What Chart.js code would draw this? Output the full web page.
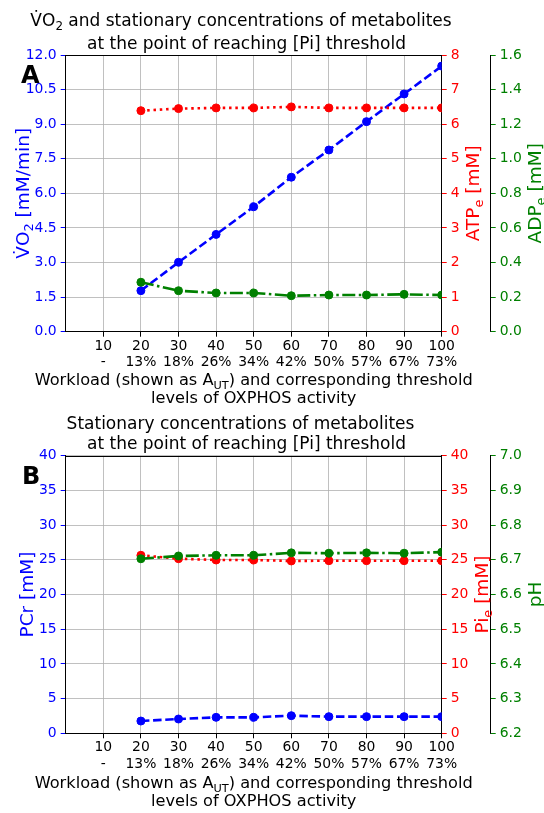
<!DOCTYPE html>
<html>
<head>
<meta charset="utf-8">
<script src="https://cdn.jsdelivr.net/npm/chart.js@4.4.1/dist/chart.umd.min.js"></script>
<style>
  html, body { margin: 0; padding: 0; background: #fff; }
  canvas { display: block; }
</style>
</head>
<body>
<canvas id="chartA" width="544" height="406"></canvas>
<canvas id="chartB" width="544" height="407"></canvas>
<script>
// workload (A_UT) and the threshold level of OXPHOS activity that goes with it
const workload = [10, 20, 30, 40, 50, 60, 70, 80, 90, 100];
const oxphosLevel = ['-', '13%', '18%', '26%', '34%', '42%', '50%', '57%', '67%', '73%'];

// panel A
const vo2 = [null, 1.78, 3.01, 4.22, 5.42, 6.70, 7.88, 9.11, 10.31, 11.52];
const atp = [null, 6.39, 6.45, 6.47, 6.47, 6.50, 6.47, 6.47, 6.47, 6.47];
const adp = [null, 0.286, 0.237, 0.224, 0.224, 0.208, 0.212, 0.212, 0.216, 0.212];

// panel B
const pcr = [null, 1.77, 2.06, 2.30, 2.30, 2.54, 2.40, 2.40, 2.40, 2.40];
const pi = [null, 25.65, 25.16, 24.97, 24.97, 24.83, 24.87, 24.87, 24.87, 24.87];
const ph = [null, 6.703, 6.711, 6.713, 6.713, 6.720, 6.719, 6.720, 6.719, 6.722];

// tick values
const vo2Ticks = [0, 1.5, 3, 4.5, 6, 7.5, 9, 10.5, 12];
const atpTicks = [0, 1, 2, 3, 4, 5, 6, 7, 8];
const adpTicks = [0, 0.2, 0.4, 0.6, 0.8, 1.0, 1.2, 1.4, 1.6];
const pcrTicks = [0, 5, 10, 15, 20, 25, 30, 35, 40];
const piTicks = [0, 5, 10, 15, 20, 25, 30, 35, 40];
const phTicks = [6.2, 6.3, 6.4, 6.5, 6.6, 6.7, 6.8, 6.9, 7.0];

Chart.defaults.font.family = '"DejaVu Sans"';
Chart.defaults.animation = false;

const BLUE = '#0000ff', RED = '#ff0000', GREEN = '#008000';
const GRID = '#b0b0b0';
const TICK_SIZE = 13.9;
const TITLE_SIZE = 17, XLABEL_SIZE = 16.2, YLABEL_SIZE = 18.5;

function drawRich(ctx, t) {
  ctx.save();
  ctx.translate(t.x, t.y);
  if (t.rot) ctx.rotate(-Math.PI / 2);
  ctx.fillStyle = t.color || '#000';
  ctx.textBaseline = 'alphabetic';
  ctx.textAlign = 'left';
  const fontOf = s => (t.bold ? 'bold ' : '') + (s[1] ? t.size * 0.7 : t.size) + 'px "DejaVu Sans"';
  let w = 0;
  t.segs.forEach(s => { ctx.font = fontOf(s); w += ctx.measureText(s[0]).width; });
  let x = t.align === 'left' ? 0 : -w / 2;
  t.segs.forEach(s => {
    ctx.font = fontOf(s);
    ctx.fillText(s[0], x, s[1] ? t.size * 0.22 : 0);
    x += ctx.measureText(s[0]).width;
  });
  ctx.restore();
}

const decor = {
  id: 'decor',
  afterDraw(chart, args, o) {
    const ctx = chart.ctx, a = chart.chartArea;
    ctx.save();
    // top spine
    ctx.strokeStyle = '#000';
    ctx.lineWidth = 1;
    const yt = Math.round(a.top) + 0.5;
    ctx.beginPath();
    ctx.moveTo(a.left, yt);
    ctx.lineTo(a.right, yt);
    ctx.stroke();
    o.texts.forEach(t => drawRich(ctx, t));
    ctx.restore();
  }
};

function yAxis(ticks, color, pos, width, weight, digits, onArea) {
  return {
    type: 'linear', position: pos, weight: weight,
    min: ticks[0], max: ticks[ticks.length - 1],
    afterBuildTicks: s => { s.ticks = ticks.map(v => ({ value: v })); },
    afterFit: s => { s.width = width; },
    ticks: { color: color, font: { size: TICK_SIZE }, padding: 4, callback: v => v.toFixed(digits) },
    grid: { display: true, drawOnChartArea: onArea, color: GRID, lineWidth: 0.8, tickLength: 5, tickColor: color, tickWidth: 1 },
    border: { color: '#000', width: 1 }
  };
}

function series(vals, color, dash, axis, order) {
  return {
    data: workload.map((x, i) => ({ x: x, y: vals[i] })).filter(p => p.y !== null),
    yAxisID: axis, order: order,
    borderColor: color, backgroundColor: color,
    borderWidth: 2.6, borderDash: dash,
    pointRadius: 4, pointBorderWidth: 1, pointBorderColor: color, pointBackgroundColor: color,
    tension: 0, fill: false
  };
}

function makeChart(id, c) {
  return new Chart(document.getElementById(id), {
    type: 'line',
    data: { datasets: c.datasets },
    options: {
      responsive: false,
      layout: { padding: { top: c.top, left: 0, right: 0, bottom: 0 } },
      plugins: { legend: { display: false }, tooltip: { enabled: false }, decor: { texts: c.texts } },
      scales: {
        x: {
          type: 'linear', min: 0, max: 100,
          afterBuildTicks: s => { s.ticks = workload.map(v => ({ value: v })); },
          afterFit: s => { s.height = c.xHeight; },
          ticks: {
            color: '#000', font: { size: TICK_SIZE, lineHeight: 1.2 }, padding: 1,
            maxRotation: 0, autoSkip: false,
            callback: (v, i) => [String(v), oxphosLevel[i]]
          },
          grid: { color: GRID, lineWidth: 0.8, tickLength: 5, tickColor: '#000', tickWidth: 1 },
          border: { color: '#000', width: 1 }
        },
        yL: yAxis(c.ticks[0], BLUE, 'left', 65.7, 0, c.digits[0], true),
        yR: yAxis(c.ticks[1], RED, 'right', 49, 1, c.digits[1], false),
        yG: yAxis(c.ticks[2], GREEN, 'right', 53.3, 2, c.digits[2], false)
      }
    },
    plugins: [decor]
  });
}

const DASHED = [8.5, 3.7], DOTTED = [2.5, 3.8], DASHDOT = [13, 3.5, 2.5, 3.5];

function xLabel(y1, y2) {
  return [
    { segs: [['Workload (shown as A'], ['UT', 1], [') and corresponding threshold']], x: 253.7, y: y1, size: XLABEL_SIZE },
    { segs: [['levels of OXPHOS activity']], x: 253.7, y: y2, size: XLABEL_SIZE }
  ];
}

makeChart('chartA', {
  top: 55, xHeight: 74.3,
  ticks: [vo2Ticks, atpTicks, adpTicks], digits: [1, 0, 1],
  datasets: [
    series(vo2, BLUE, DASHED, 'yL', 3),
    series(atp, RED, DOTTED, 'yR', 2),
    series(adp, GREEN, DASHDOT, 'yG', 1)
  ],
  texts: [
    { segs: [['V\u0307O'], ['2', 1], [' and stationary concentrations of metabolites']], x: 241, y: 26, size: TITLE_SIZE },
    { segs: [['at the point of reaching [Pi] threshold']], x: 246.5, y: 49.3, size: TITLE_SIZE },
    { segs: [['A']], x: 21, y: 82.7, size: 24, bold: true, align: 'left' },
    { segs: [['V\u0307O'], ['2', 1], [' [mM/min]']], x: 29, y: 193.3, size: YLABEL_SIZE, rot: true, color: BLUE },
    { segs: [['ATP'], ['e', 1], [' [mM]']], x: 479, y: 193.3, size: YLABEL_SIZE, rot: true, color: RED },
    { segs: [['ADP'], ['e', 1], [' [mM]']], x: 541, y: 193.3, size: YLABEL_SIZE, rot: true, color: GREEN }
  ].concat(xLabel(385, 403.3))
});

makeChart('chartB', {
  top: 49.7, xHeight: 79.7,
  ticks: [pcrTicks, piTicks, phTicks], digits: [0, 0, 1],
  datasets: [
    series(pcr, BLUE, DASHED, 'yL', 3),
    series(pi, RED, DOTTED, 'yR', 2),
    series(ph, GREEN, DASHDOT, 'yG', 1)
  ],
  texts: [
    { segs: [['Stationary concentrations of metabolites']], x: 240.5, y: 23.3, size: TITLE_SIZE },
    { segs: [['at the point of reaching [Pi] threshold']], x: 246.5, y: 43.3, size: TITLE_SIZE },
    { segs: [['B']], x: 22, y: 78, size: 24, bold: true, align: 'left' },
    { segs: [['PCr [mM]']], x: 32.5, y: 188.5, size: YLABEL_SIZE, rot: true, color: BLUE },
    { segs: [['Pi'], ['e', 1], [' [mM]']], x: 487.5, y: 188.5, size: YLABEL_SIZE, rot: true, color: RED },
    { segs: [['pH']], x: 541, y: 188.5, size: YLABEL_SIZE, rot: true, color: GREEN }
  ].concat(xLabel(382.3, 400))
});
</script>
</body>
</html>
